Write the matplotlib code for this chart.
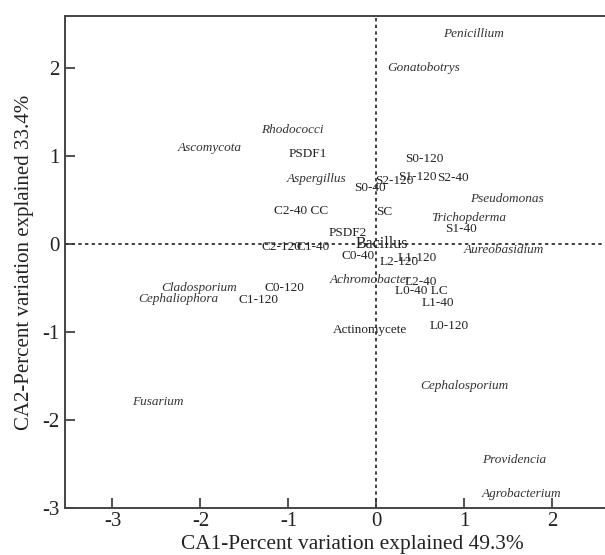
import matplotlib
matplotlib.use("Agg")
import matplotlib.pyplot as plt

# Sample / treatment labels (upright)
site_labels = ["PSDF1", "S0-40", "C2-40 CC", "SC", "PSDF2", "C2-120", "C1-40",
               "C0-40", "S0-120", "S1-120", "S2-40", "S2-120", "S1-40",
               "L1-120", "L2-120", "C0-120", "C1-120", "Actinomycete",
               "L2-40", "L0-40 LC", "L1-40", "L0-120"]
site_x = [-0.78, -0.075, -0.85, 0.095, -0.32, -1.08, -0.72,
          -0.21, 0.55, 0.47, 0.87, 0.21, 0.96,
          0.46, 0.26, -1.04, -1.34, -0.075,
          0.50, 0.51, 0.70, 0.83]
site_y = [1.02, 0.64, 0.37, 0.36, 0.12, -0.03, -0.03,
          -0.14, 0.97, 0.76, 0.75, 0.71, 0.17,
          -0.16, -0.21, -0.50, -0.64, -0.98,
          -0.43, -0.54, -0.67, -0.93]

# Taxa labels (italic)
taxa_labels = ["Rhodococci", "Ascomycota", "Aspergillus", "Pseudomonas",
               "Trichopderma", "Aureobasidium", "Cladosporium", "Cephaliophora",
               "Achromobacter", "Penicillium", "Gonatobotrys", "Fusarium",
               "Cephalosporium", "Providencia", "Agrobacterium"]
taxa_x = [-0.95, -1.89, -0.68, 1.48, 1.05, 1.45, -2.01, -2.25,
          -0.07, 1.11, 0.54, -2.48, 1.00, 1.57, 1.65]
taxa_y = [1.30, 1.09, 0.74, 0.51, 0.29, -0.07, -0.50, -0.63,
          -0.41, 2.39, 2.00, -1.80, -1.61, -2.46, -2.84]

# Highlighted label
big_label = ["Bacillus"]
big_x = [0.06]
big_y = [0.0]

x_ticks = [-3, -2, -1, 0, 1, 2]
y_ticks = [-3, -2, -1, 0, 1, 2]
x_title = "CA1-Percent variation explained 49.3%"
y_title = "CA2-Percent variation explained 33.4%"

plt.rcParams['font.family'] = ['Liberation Serif', 'DejaVu Serif']

fig = plt.figure(figsize=(6.05, 5.55), dpi=100)
ax = fig.add_axes([65/605, 47/555, 540/605, 492/555])

ax.set_xlim(-3.54, 2.6)
ax.set_ylim(-3.0, 2.59)

ax.axvline(0, color="#222222", lw=1.2, ls=(0, (2, 2)), zorder=1)
ax.axhline(0, color="#222222", lw=1.2, ls=(0, (2, 2)), zorder=1)

for lab, x, y in zip(site_labels, site_x, site_y):
    ax.text(x, y, lab, ha="center", va="center", fontsize=9.5, color="#222222", zorder=3)
for lab, x, y in zip(taxa_labels, taxa_x, taxa_y):
    ax.text(x, y, lab, ha="center", va="center", fontsize=9.5, style="italic",
            color="#333333", zorder=3)
for lab, x, y in zip(big_label, big_x, big_y):
    ax.text(x, y, lab, ha="center", va="center", fontsize=11.5, color="#222222", zorder=3)

ax.set_xticks(x_ticks)
ax.set_yticks(y_ticks)
ax.set_xticklabels([str(t) for t in x_ticks])
ax.set_yticklabels([str(t) for t in y_ticks])
ax.tick_params(axis="both", direction="in", length=7, width=1.2, labelsize=15,
               colors="#333333", labelcolor="#222222")
ax.tick_params(axis="x", pad=3)
ax.tick_params(axis="y", pad=4)

for s in ["left", "bottom", "top"]:
    ax.spines[s].set_color("#444444")
    ax.spines[s].set_linewidth(1.4)
ax.spines["right"].set_visible(False)

ax.set_xlabel(x_title, fontsize=15.4, color="#222222", labelpad=4)
ax.xaxis.set_label_coords(0.533, -0.055)
ax.xaxis.label.set_verticalalignment("top")
ax.set_ylabel(y_title, fontsize=15, color="#222222", labelpad=6)

fig.savefig("out.png", dpi=100)
